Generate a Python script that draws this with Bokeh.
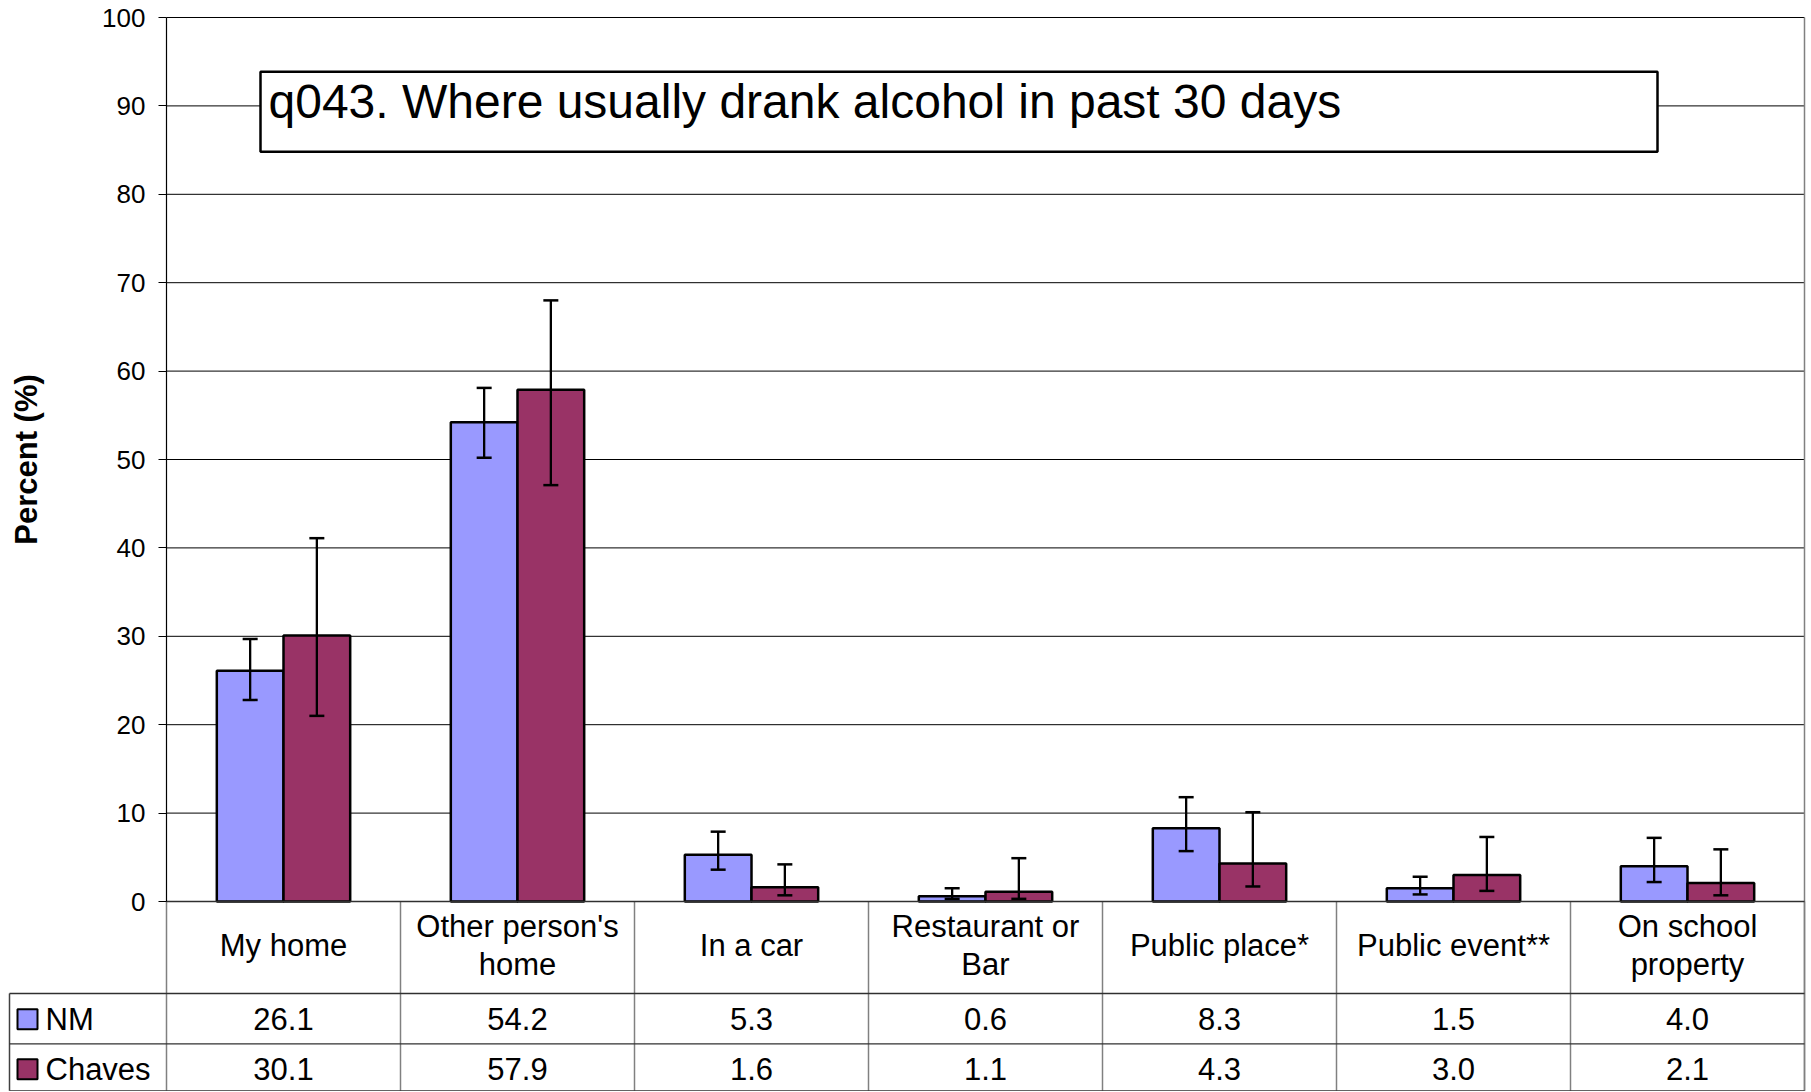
import numpy as np
from bokeh.plotting import figure
from bokeh.models import (ColumnDataSource, Range1d, LinearAxis, FixedTicker,
                          Whisker, TeeHead, BoxAnnotation, Label)
from bokeh.core.properties import value
from bokeh.embed import file_html
from bokeh.resources import INLINE

# ---------------- data ----------------
categories = ["My home", "Other person's\nhome", "In a car", "Restaurant or\nBar",
              "Public place*", "Public event**", "On school\nproperty"]
series_names = ["NM", "Chaves"]
nm_values = [26.1, 54.2, 5.3, 0.6, 8.3, 1.5, 4.0]
chaves_values = [30.1, 57.9, 1.6, 1.1, 4.3, 3.0, 2.1]
nm_lower = [22.8, 50.2, 3.6, 0.3, 5.7, 0.8, 2.2]
nm_upper = [29.7, 58.1, 7.9, 1.5, 11.8, 2.8, 7.2]
chaves_lower = [21.0, 47.1, 0.7, 0.3, 1.7, 1.2, 0.7]
chaves_upper = [41.1, 68.0, 4.2, 4.9, 10.1, 7.3, 5.9]
y_ticks = [0, 10, 20, 30, 40, 50, 60, 70, 80, 90, 100]
title_text = "q043. Where usually drank alcohol in past 30 days"
y_label = "Percent (%)"

# ---------------- style / layout ----------------
FONT = "Liberation Sans"
NM_COLOR = "#9999FF"
CH_COLOR = "#993366"
CAT_PX = 234.0        # pixels per category
LEFT_PX = 166.0       # pixels left of the value axis
RIGHT_PX = 3.0
PPU = 8.84            # pixels per percent
TOP_PX = 17.0
TABLE_PX = 190.0
n = len(categories)

W = int(LEFT_PX + n * CAT_PX + RIGHT_PX)
H = int(TOP_PX + 100 * PPU + TABLE_PX)

p = figure(width=W, height=H,
           x_range=Range1d(-LEFT_PX / CAT_PX, n + RIGHT_PX / CAT_PX),
           y_range=Range1d(-TABLE_PX / PPU, 100 + TOP_PX / PPU),
           output_backend="svg", toolbar_location=None,
           x_axis_location=None, y_axis_location=None,
           min_border=0, min_border_left=0, min_border_right=0,
           min_border_top=0, min_border_bottom=0)
p.outline_line_color = None
p.background_fill_color = "white"
p.border_fill_color = "white"
p.xgrid.visible = False
p.ygrid.visible = False

# table geometry (in data units)
row1 = -92.0 / PPU      # bottom of category row
row2 = -142.3 / PPU     # bottom of NM row
row3 = -189.3 / PPU     # bottom of Chaves row
leg_left = -157.0 / CAT_PX

idx = np.arange(n)
centers = idx + 0.5
bar_w = 0.285
nm_x = centers - bar_w / 2
ch_x = centers + bar_w / 2

# gridlines
p.segment(x0=0, x1=n, y0=y_ticks, y1=y_ticks, line_color="#000000",
          line_width=1, level="underlay")
# right border
p.segment(x0=[n], x1=[n], y0=[100], y1=[row3], line_color="#808080",
          line_width=1.5, level="underlay")

# bars
src_nm = ColumnDataSource(dict(x=nm_x, top=nm_values, lower=nm_lower, upper=nm_upper))
src_ch = ColumnDataSource(dict(x=ch_x, top=chaves_values, lower=chaves_lower, upper=chaves_upper))
p.vbar(x="x", top="top", bottom=0, width=bar_w, source=src_nm,
       fill_color=NM_COLOR, line_color="black", line_width=2.5)
p.vbar(x="x", top="top", bottom=0, width=bar_w, source=src_ch,
       fill_color=CH_COLOR, line_color="black", line_width=2.5)

for src in (src_nm, src_ch):
    wk = Whisker(base="x", lower="lower", upper="upper", source=src,
                 dimension="height", line_color="black", line_width=2.3,
                 upper_head=TeeHead(size=15, line_width=2.5, line_color="black"),
                 lower_head=TeeHead(size=15, line_width=2.5, line_color="black"),
                 level="annotation")
    p.add_layout(wk)

# value axis
yaxis = LinearAxis(fixed_location=0, bounds=(0, 100),
                   ticker=FixedTicker(ticks=y_ticks),
                   axis_label=y_label,
                   axis_label_text_font=FONT, axis_label_text_font_size="31px",
                   axis_label_text_font_style="bold", axis_label_text_color="black",
                   axis_label_standoff=55,
                   major_label_text_font=FONT, major_label_text_font_size="26px",
                   major_label_text_color="black", major_label_standoff=13,
                   major_tick_in=0, major_tick_out=8,
                   major_tick_line_color="black", major_tick_line_width=1,
                   minor_tick_line_color=None,
                   axis_line_color="black", axis_line_width=1.2)
p.add_layout(yaxis, "left")

# title box
box = BoxAnnotation(left=94.0 / CAT_PX, right=1491.0 / CAT_PX,
                    top=829.7 / PPU, bottom=749.7 / PPU,
                    fill_color="white", fill_alpha=1.0,
                    line_color="black", line_alpha=1.0, line_width=2.5,
                    level="annotation")
p.add_layout(box)
p.add_layout(Label(x=102.0 / CAT_PX, y=799.7 / PPU, text=title_text,
                   text_font=FONT, text_font_size="48px", text_color="black",
                   text_baseline="alphabetic", text_align="left"))

# data table: lines
p.segment(x0=list(range(n + 1)), x1=list(range(n + 1)),
          y0=[0] * (n + 1), y1=[row3] * (n + 1),
          line_color="#808080", line_width=1.5)
p.segment(x0=[leg_left], x1=[leg_left], y0=[row1], y1=[row3],
          line_color="#404040", line_width=1.5)
p.segment(x0=[0, leg_left, leg_left, leg_left], x1=[n, n, n, n],
          y0=[0, row1, row2, row3], y1=[0, row1, row2, row3],
          line_color="#303030", line_width=1.3)

# category labels
p.text(x=centers, y=[-44.0 / PPU] * n, text=categories,
       text_font=value(FONT), text_font_size="31px", text_color="black",
       text_align="center", text_baseline="middle", text_line_height=1.1)

# values
nm_y = -117.8 / PPU
ch_y = -167.8 / PPU
p.text(x=centers, y=[nm_y] * n, text=[f"{v:.1f}" for v in nm_values],
       text_font=value(FONT), text_font_size="31px", text_color="black",
       text_align="center", text_baseline="middle")
p.text(x=centers, y=[ch_y] * n, text=[f"{v:.1f}" for v in chaves_values],
       text_font=value(FONT), text_font_size="31px", text_color="black",
       text_align="center", text_baseline="middle")

# legend keys in table
leg_sq_x = -139.0 / CAT_PX
leg_tx_x = -121.0 / CAT_PX
p.scatter(x=[leg_sq_x, leg_sq_x], y=[nm_y, ch_y], marker="square", size=20,
          fill_color=[NM_COLOR, CH_COLOR], line_color="black", line_width=2)
p.text(x=[leg_tx_x, leg_tx_x], y=[nm_y, ch_y], text=series_names,
       text_font=value(FONT), text_font_size="31px", text_color="black",
       text_align="left", text_baseline="middle")

open("out.html", "w").write(file_html(p, INLINE))
